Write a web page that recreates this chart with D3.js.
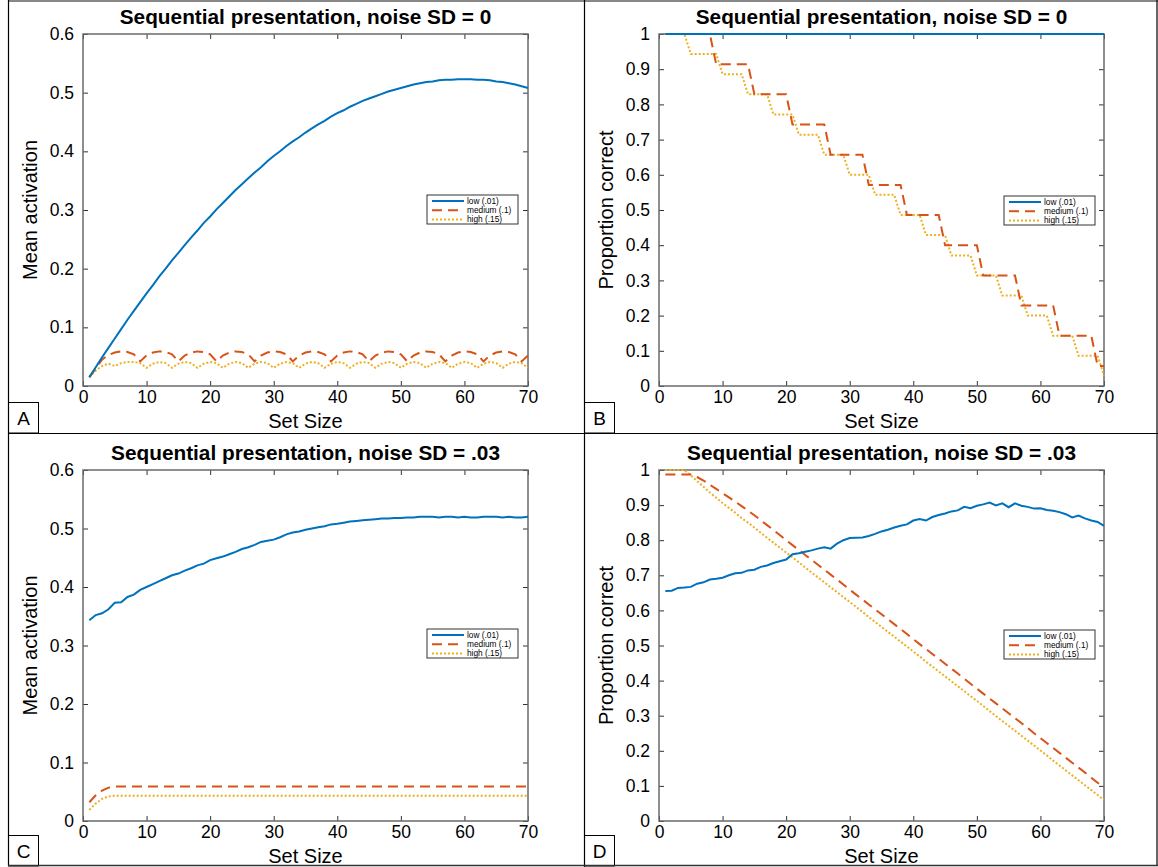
<!DOCTYPE html>
<html><head><meta charset="utf-8">
<script src="https://cdn.jsdelivr.net/npm/d3@7"></script>
<style>
body{margin:0;background:#fff}
svg{display:block}
text{font-family:"Liberation Sans",Arial,Helvetica,sans-serif;fill:#000}
</style></head>
<body><svg id="c" width="1158" height="867"></svg>
<script>
// ---------------- data ----------------
const setSize = d3.range(1, 71);
const xTicks = [0,10,20,30,40,50,60,70];
const yTicksAct = [0,0.1,0.2,0.3,0.4,0.5,0.6];
const yTicksProp = [0,0.1,0.2,0.3,0.4,0.5,0.6,0.7,0.8,0.9,1];
const seriesNames = ["low (.01)","medium (.1)","high (.15)"];

// Panel A: mean activation, noise SD = 0
const aLow = [.015,.032,.049,.065,.081,.097,.113,.128,.143,.158,.172,.187,.200,.214,.227,.240,.253,.265,.278,.289,
.301,.312,.323,.334,.344,.354,.364,.373,.383,.392,.400,.409,.417,.424,.432,.439,.446,.452,.459,.465,
.470,.476,.481,.486,.490,.494,.498,.502,.505,.508,.511,.514,.516,.518,.519,.521,.522,.522,.523,.523,
.523,.522,.522,.521,.519,.518,.516,.514,.511,.508];
const aMed = [.015,.030,.045,.053,.057,.059,.058,.054,
.042,.052,.057,.059,.058,.054, .042,.052,.057,.059,.058,.054, .042,.052,.057,.059,.058,.054,
.042,.052,.057,.059,.058,.054, .042,.052,.057,.059,.058,.054, .042,.052,.057,.059,.058,.054,
.042,.052,.057,.059,.058,.054, .042,.052,.057,.059,.058,.054, .042,.052,.057,.059,.058,.054,
.042,.052,.057,.059,.058,.054, .042,.052];
const aHigh = [.015,.026,.034,.038,.034,.039,.041,.041,.039,
.031,.038,.041,.039, .031,.038,.041,.039, .031,.038,.041,.039, .031,.038,.041,.039,
.031,.038,.041,.039, .031,.038,.041,.039, .031,.038,.041,.039, .031,.038,.041,.039,
.031,.038,.041,.039, .031,.038,.041,.039, .031,.038,.041,.039, .031,.038,.041,.039,
.031,.038,.041,.039, .031,.038,.041,.039, .031,.038,.041,.039, .031];

// Panel B: proportion correct, noise SD = 0
const bLow = setSize.map(() => 1);
const bMed = [1,1,1,1,1,1,1,1,
.914,.914,.914,.914,.914,.914, .829,.829,.829,.829,.829,.829, .743,.743,.743,.743,.743,.743,
.657,.657,.657,.657,.657,.657, .571,.571,.571,.571,.571,.571, .486,.486,.486,.486,.486,.486,
.400,.400,.400,.400,.400,.400, .314,.314,.314,.314,.314,.314, .229,.229,.229,.229,.229,.229,
.143,.143,.143,.143,.143,.143, .057,.057];
const bHigh = [1,1,1,1, .943,.943,.943,.943,.943, .886,.886,.886,.886, .829,.829,.829,.829,
.771,.771,.771,.771, .714,.714,.714,.714, .657,.657,.657,.657, .600,.600,.600,.600,
.543,.543,.543,.543, .486,.486,.486,.486, .429,.429,.429,.429, .371,.371,.371,.371,
.314,.314,.314,.314, .257,.257,.257,.257, .200,.200,.200,.200, .143,.143,.143,.143,
.086,.086,.086,.086, .029];

// Panel C: mean activation, noise SD = .03
const cLow = [.343,.352,.355,.362,.373,.374,.383,.387,.395,.400,.405,.410,.415,.420,.423,.428,.432,.437,.440,.446,
.449,.452,.456,.460,.465,.468,.472,.477,.479,.481,.485,.490,.493,.495,.498,.500,.502,.504,.507,.508,
.510,.512,.513,.514,.515,.516,.517,.517,.518,.518,.519,.519,.520,.520,.520,.519,.520,.520,.519,.520,
.519,.519,.520,.520,.520,.519,.520,.519,.519,.520];
const cMed = [.032,.044,.052,.057,.059,.059,.059,.059,.059,.059,.059,.059,.059,.059,.059,.059,.059,.059,.059,.059,
.059,.059,.059,.059,.059,.059,.059,.059,.059,.059,.059,.059,.059,.059,.059,.059,.059,.059,.059,.059,
.059,.059,.059,.059,.059,.059,.059,.059,.059,.059,.059,.059,.059,.059,.059,.059,.059,.059,.059,.059,
.059,.059,.059,.059,.059,.059,.059,.059,.059,.059];
const cHigh = [.019,.030,.038,.042,.043,.043,.043,.043,.043,.043,.043,.043,.043,.043,.043,.043,.043,.043,.043,.043,
.043,.043,.043,.043,.043,.043,.043,.043,.043,.043,.043,.043,.043,.043,.043,.043,.043,.043,.043,.043,
.043,.043,.043,.043,.043,.043,.043,.043,.043,.043,.043,.043,.043,.043,.043,.043,.043,.043,.043,.043,
.043,.043,.043,.043,.043,.043,.043,.043,.043,.043];

// Panel D: proportion correct, noise SD = .03
const dLow = [.655,.656,.664,.665,.667,.676,.680,.688,.690,.693,.700,.706,.707,.714,.716,.724,.728,.735,.740,.745,
.760,.763,.767,.771,.776,.780,.776,.790,.800,.806,.807,.808,.812,.818,.825,.830,.836,.841,.845,.856,
.860,.856,.866,.872,.876,.882,.885,.895,.891,.898,.902,.907,.899,.905,.894,.905,.898,.895,.890,.891,
.886,.884,.880,.874,.865,.870,.862,.856,.852,.841];
const dMed = [.987,.987,.987,.987,.987,.980,.970,.958,.946,.934,.922,.910,.897,.884,.871,.857,.843,.829,.815,.800,
.786,.772,.758,.744,.730,.716,.702,.688,.674,.659,.645,.631,.617,.603,.589,.575,.561,.547,.533,.518,
.504,.490,.476,.462,.448,.434,.420,.406,.391,.377,.363,.349,.335,.321,.307,.293,.279,.265,.250,.236,
.222,.208,.194,.180,.166,.152,.138,.123,.109,.095];
const dHigh = [1,1,1,1,.985,.968,.952,.936,.921,.906,.892,.878,.863,.850,.836,.821,.807,.793,.779,.765,
.751,.737,.722,.708,.694,.680,.666,.652,.638,.624,.610,.596,.581,.567,.553,.539,.525,.511,.497,.483,
.469,.454,.440,.426,.412,.398,.384,.370,.356,.342,.328,.313,.299,.285,.271,.257,.243,.229,.215,.201,
.187,.172,.158,.144,.130,.116,.102,.088,.074,.060];

// ---------------- layout / styles ----------------
const colors = ["#0072BD","#D95319","#EDB120"];
const dashes = [null,"10,6","2,2"];

const panels = [
  {label:"A", title:"Sequential presentation, noise SD = 0", ylab:"Mean activation", ymax:0.6, yt:yTicksAct,
   data:[aLow,aMed,aHigh], x0:83, x1:528, y0:34, y1:386, lg:[427,195], lb:[8,402]},
  {label:"B", title:"Sequential presentation, noise SD = 0", ylab:"Proportion correct", ymax:1, yt:yTicksProp,
   data:[bLow,bMed,bHigh], x0:659, x1:1104, y0:34, y1:386, lg:[1004,196], lb:[584,402]},
  {label:"C", title:"Sequential presentation, noise SD = .03", ylab:"Mean activation", ymax:0.6, yt:yTicksAct,
   data:[cLow,cMed,cHigh], x0:83, x1:528, y0:470, y1:821, lg:[427,629], lb:[8,835]},
  {label:"D", title:"Sequential presentation, noise SD = .03", ylab:"Proportion correct", ymax:1, yt:yTicksProp,
   data:[dLow,dMed,dHigh], x0:659, x1:1104, y0:470, y1:821, lg:[1004,630], lb:[584,835]}
];

const svg = d3.select("#c");
svg.append("rect").attr("width",1158).attr("height",867).attr("fill","#fff");

const fmt = d => String(+(+d).toFixed(1));

panels.forEach(p => {
  const x = d3.scaleLinear().domain([0,70]).range([p.x0,p.x1]);
  const y = d3.scaleLinear().domain([0,p.ymax]).range([p.y1,p.y0]);
  const g = svg.append("g");

  // axes with inward ticks
  const axB = g.append("g").attr("transform",`translate(0,${p.y1})`)
    .call(d3.axisBottom(x).tickValues(xTicks).tickFormat(fmt).tickSizeInner(-5).tickSizeOuter(0).tickPadding(5));
  const axT = g.append("g").attr("transform",`translate(0,${p.y0})`)
    .call(d3.axisTop(x).tickValues(xTicks).tickFormat("").tickSizeInner(-5).tickSizeOuter(0));
  const axL = g.append("g").attr("transform",`translate(${p.x0},0)`)
    .call(d3.axisLeft(y).tickValues(p.yt).tickFormat(fmt).tickSizeInner(-5).tickSizeOuter(0).tickPadding(9));
  const axR = g.append("g").attr("transform",`translate(${p.x1},0)`)
    .call(d3.axisRight(y).tickValues(p.yt).tickFormat("").tickSizeInner(-5).tickSizeOuter(0));
  [axB,axT,axL,axR].forEach(a => {
    a.select(".domain").remove();
    a.selectAll("line").attr("stroke","#333").attr("stroke-width",1);
    a.selectAll("text").attr("font-size",17.5).attr("fill","#000")
      .attr("font-family",'"Liberation Sans",Arial,sans-serif');
  });

  // box
  g.append("rect").attr("x",p.x0).attr("y",p.y0).attr("width",p.x1-p.x0).attr("height",p.y1-p.y0)
    .attr("fill","none").attr("stroke","#6a6a6a").attr("stroke-width",1.5);

  // series
  const line = d3.line().x((d,i)=>x(setSize[i])).y(d=>y(d));
  [2,1,0].forEach(k => {
    g.append("path").datum(p.data[k]).attr("d",line).attr("fill","none")
      .attr("stroke",colors[k]).attr("stroke-width",2)
      .attr("stroke-dasharray",dashes[k]);
  });

  // title
  g.append("text").attr("x",(p.x0+p.x1)/2).attr("y",p.y0-10).attr("text-anchor","middle")
    .attr("font-size",20.8).attr("font-weight","bold").text(p.title);
  // x label
  g.append("text").attr("x",(p.x0+p.x1)/2).attr("y",p.y1+42).attr("text-anchor","middle")
    .attr("font-size",20).text("Set Size");
  // y label
  g.append("text").attr("transform",`translate(${p.x0-46},${(p.y0+p.y1)/2}) rotate(-90)`)
    .attr("text-anchor","middle").attr("font-size",20).text(p.ylab);

  // legend
  const [lx,ly] = p.lg;
  const lg = g.append("g").attr("transform",`translate(${lx},${ly})`);
  lg.append("rect").attr("width",91).attr("height",29).attr("fill","#fff")
    .attr("stroke","#333").attr("stroke-width",1);
  seriesNames.forEach((nm,k) => {
    const yy = 6 + k*9.2;
    lg.append("line").attr("x1",5).attr("x2",37).attr("y1",yy).attr("y2",yy)
      .attr("stroke",colors[k]).attr("stroke-width",2).attr("stroke-dasharray",dashes[k]);
    lg.append("text").attr("x",40).attr("y",yy+3).attr("font-size",8.3).text(nm);
  });

  // panel label box
  const [bx,by] = p.lb;
  svg.append("rect").attr("x",bx+0.5).attr("y",by+0.5).attr("width",30).attr("height",30.5)
    .attr("fill","#fff").attr("stroke","#000").attr("stroke-width",1);
  svg.append("text").attr("x",bx+15.5).attr("y",by+23).attr("text-anchor","middle")
    .attr("font-size",19).text(p.label);
});

// figure frame and dividers
svg.append("line").attr("x1",8).attr("x2",1158).attr("y1",1).attr("y2",1).attr("stroke","#888").attr("stroke-width",2);
svg.append("line").attr("x1",8.5).attr("x2",8.5).attr("y1",0).attr("y2",866).attr("stroke","#000").attr("stroke-width",1.2);
svg.append("line").attr("x1",1157).attr("x2",1157).attr("y1",0).attr("y2",866).attr("stroke","#000").attr("stroke-width",1.2);
svg.append("line").attr("x1",584.5).attr("x2",584.5).attr("y1",0).attr("y2",867).attr("stroke","#000").attr("stroke-width",1.2);
svg.append("line").attr("x1",8).attr("x2",1158).attr("y1",433.5).attr("y2",433.5).attr("stroke","#000").attr("stroke-width",1.2);
svg.append("line").attr("x1",8).attr("x2",1158).attr("y1",865.5).attr("y2",865.5).attr("stroke","#333").attr("stroke-width",1.5);
</script></body></html>
